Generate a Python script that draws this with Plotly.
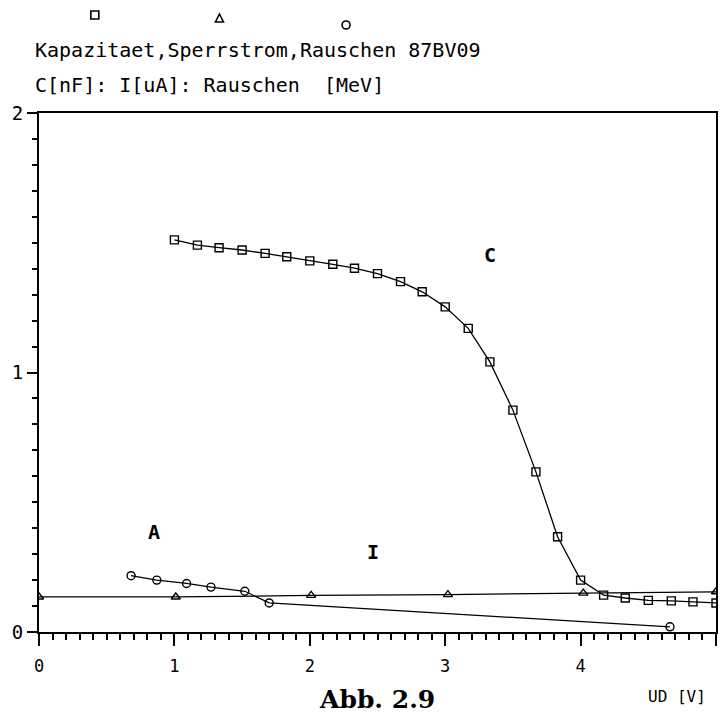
import plotly.graph_objects as go

# ---- data ----
c_x = [1.0, 1.17, 1.33, 1.5, 1.67, 1.83, 2.0, 2.17, 2.33, 2.5, 2.67, 2.83, 3.0,
       3.17, 3.33, 3.5, 3.67, 3.83, 4.0, 4.17, 4.33, 4.5, 4.67, 4.83, 5.0]
c_y = [1.511, 1.491, 1.481, 1.472, 1.459, 1.446, 1.430, 1.417, 1.402, 1.381, 1.350,
       1.311, 1.253, 1.170, 1.041, 0.855, 0.617, 0.367, 0.200, 0.142, 0.131, 0.122,
       0.120, 0.116, 0.112]

i_x = [0.0, 1.01, 2.01, 3.02, 4.02, 5.0]
i_y = [0.135, 0.135, 0.141, 0.144, 0.150, 0.155]

r_x = [0.68, 0.87, 1.09, 1.27, 1.52, 1.70, 4.66]
r_y = [0.217, 0.200, 0.187, 0.173, 0.157, 0.112, 0.020]

x_ticks = [0, 1, 2, 3, 4, 5]
y_ticks = [0, 1, 2]

header1 = "Kapazitaet,Sperrstrom,Rauschen 87BV09"
header2 = "C[nF]: I[uA]: Rauschen  [MeV]"
x_title = "UD [V]"
caption = "Abb. 2.9"

# ---- layout geometry (pixels) ----
W, H = 720, 717
L, R, T, B = 39, 2, 113, 85
PW, PH = W - L - R, H - T - B


def px(x):
    return (x - L) / PW


def py(y):
    return (H - B - y) / PH


MONO = "DejaVu Sans Mono"
line = dict(color="black", width=1.3)

fig = go.Figure()
fig.add_trace(go.Scatter(x=c_x, y=c_y, mode="lines+markers", line=line,
                         marker=dict(symbol="square-open", size=8, color="black",
                                     line=dict(width=1.4)),
                         showlegend=False))
fig.add_trace(go.Scatter(x=i_x, y=i_y, mode="lines+markers", line=line,
                         marker=dict(symbol="triangle-up-open", size=8, color="black",
                                     line=dict(width=1.4)),
                         showlegend=False))
fig.add_trace(go.Scatter(x=r_x, y=r_y, mode="lines+markers", line=line,
                         marker=dict(symbol="circle-open", size=8, color="black",
                                     line=dict(width=1.4)),
                         showlegend=False))

# header key symbols (square, triangle, circle) as paper shapes
key_line = dict(color="black", width=1.6)
shapes = [
    dict(type="rect", xref="paper", yref="paper", x0=px(91), x1=px(99),
         y0=py(19), y1=py(11), line=key_line),
    dict(type="path", xref="paper", yref="paper",
         path=f"M {px(216)} {py(22)} L {px(224)} {py(22)} L {px(220)} {py(14)} Z",
         line=key_line),
    dict(type="circle", xref="paper", yref="paper", x0=px(343), x1=px(351),
         y0=py(29), y1=py(21), line=key_line),
]

annotations = [
    dict(x=3.33, y=1.453, xref="x", yref="y", text="<b>C</b>", showarrow=False,
         font=dict(family=MONO, size=20, color="black")),
    dict(x=0.85, y=0.385, xref="x", yref="y", text="<b>A</b>", showarrow=False,
         font=dict(family=MONO, size=20, color="black")),
    dict(x=2.47, y=0.308, xref="x", yref="y", text="<b>I</b>", showarrow=False,
         font=dict(family=MONO, size=20, color="black")),
    dict(x=px(33), y=py(50), xref="paper", yref="paper", text=header1,
         showarrow=False, xanchor="left", yanchor="middle",
         font=dict(family=MONO, size=20, color="black")),
    dict(x=px(33), y=py(85), xref="paper", yref="paper", text=header2,
         showarrow=False, xanchor="left", yanchor="middle",
         font=dict(family=MONO, size=20, color="black")),
    dict(x=px(710), y=py(696), xref="paper", yref="paper", text=x_title,
         showarrow=False, xanchor="right", yanchor="middle",
         font=dict(family=MONO, size=16, color="black")),
    dict(x=px(378), y=py(699), xref="paper", yref="paper", text="<b>" + caption + "</b>",
         showarrow=False, xanchor="center", yanchor="middle",
         font=dict(family="DejaVu Serif", size=25, color="black")),
]

fig.update_layout(
    width=W, height=H,
    margin=dict(l=L, r=R, t=T, b=B, pad=0),
    paper_bgcolor="white", plot_bgcolor="white",
    showlegend=False,
    annotations=annotations,
    shapes=shapes,
    xaxis=dict(range=[0, 5], tickvals=x_ticks, ticktext=[str(v) for v in x_ticks],
               showgrid=False, zeroline=False, showline=True, linecolor="black",
               linewidth=2, mirror=True, ticks="outside", ticklen=12, tickwidth=2,
               tickcolor="black", ticklabelstandoff=6,
               tickfont=dict(family=MONO, size=17, color="black"),
               minor=dict(dtick=0.1, tick0=0, ticks="outside", ticklen=6,
                          tickwidth=1.5, tickcolor="black", showgrid=False)),
    yaxis=dict(range=[0, 2], tickvals=y_ticks, ticktext=[str(v) for v in y_ticks],
               showgrid=False, zeroline=False, showline=True, linecolor="black",
               linewidth=2, mirror=True, ticks="outside", ticklen=10, tickwidth=1.5,
               tickcolor="black",
               tickfont=dict(family=MONO, size=19, color="black"),
               minor=dict(dtick=0.1, tick0=0, ticks="outside", ticklen=5,
                          tickwidth=1.5, tickcolor="black", showgrid=False)),
)

fig.write_html("out.html")
